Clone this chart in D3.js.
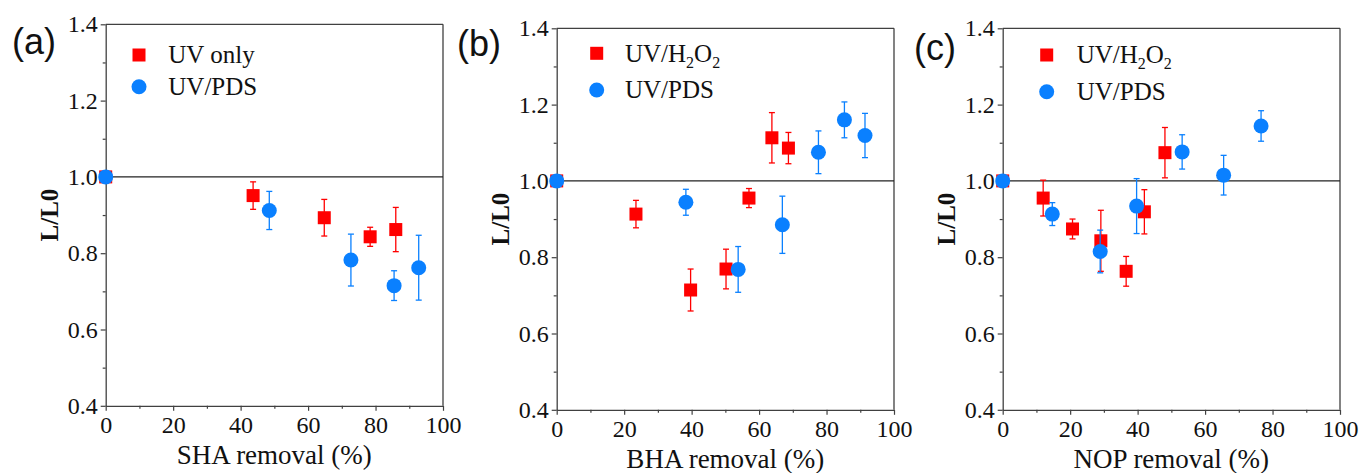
<!DOCTYPE html>
<html>
<head>
<meta charset="utf-8">
<script src="https://cdn.jsdelivr.net/npm/d3@7"></script>
<style>
  body { margin: 0; background: #fff; }
  svg { display: block; }
  svg text { font-family: "Liberation Serif", serif; }
  svg text.panel-label { font-family: "Liberation Sans", sans-serif; }
</style>
</head>
<body>
<svg id="chart" width="1363" height="473"></svg>
<script>
// ---- data ----
var xTicks = [0, 20, 40, 60, 80, 100];
var yTicks = [0.4, 0.6, 0.8, 1.0, 1.2, 1.4];

// (a) SHA
var shaRedX   = [0, 43.7, 64.8, 78.4, 86.0];
var shaRedY   = [1.0, 0.951, 0.893, 0.843, 0.862];
var shaRedErr = [0, 0.036, 0.048, 0.025, 0.058];
var shaBlueX   = [0, 48.5, 72.7, 85.5, 92.8];
var shaBlueY   = [1.0, 0.912, 0.782, 0.715, 0.762];
var shaBlueErr = [0, 0.050, 0.068, 0.039, 0.085];

// (b) BHA
var bhaRedX   = [0, 23.5, 39.7, 50.2, 57.0, 63.8, 68.7];
var bhaRedY   = [1.0, 0.913, 0.714, 0.769, 0.955, 1.113, 1.086];
var bhaRedErr = [0, 0.036, 0.055, 0.052, 0.025, 0.066, 0.041];
var bhaBlueX   = [0, 38.3, 53.8, 66.9, 77.6, 85.3, 91.4];
var bhaBlueY   = [1.0, 0.944, 0.768, 0.885, 1.075, 1.160, 1.119];
var bhaBlueErr = [0, 0.034, 0.060, 0.075, 0.056, 0.047, 0.058];

// (c) NOP
var nopRedX   = [0, 12.0, 20.7, 29.1, 36.6, 42.0, 48.1];
var nopRedY   = [1.0, 0.955, 0.874, 0.843, 0.763, 0.919, 1.074];
var nopRedErr = [0, 0.047, 0.026, 0.080, 0.039, 0.058, 0.066];
var nopBlueX   = [0, 14.7, 28.9, 39.7, 53.2, 65.5, 76.6];
var nopBlueY   = [1.0, 0.913, 0.815, 0.934, 1.076, 1.015, 1.144];
var nopBlueErr = [0, 0.030, 0.056, 0.072, 0.045, 0.052, 0.040];

var redColor = "#ff0000";
var blueColor = "#0a80ff";
var axisColor = "#404040";
var serif = "Liberation Serif";

function zip(xs, ys, es) {
  return xs.map(function (x, i) { return { x: x, y: ys[i], e: es[i] }; });
}

// legY is relative to the panel's top edge
var panels = [
  { label: "(a)", labelX: 12, labelY: 54, left: 105.7, top: 24.3,
    xTitle: "SHA removal (%)", redName: "UV only", redSub: false,
    legX: 33.3, legTextX: 62.6, legY: 30.7, legGap: 31.7,
    red: zip(shaRedX, shaRedY, shaRedErr), blue: zip(shaBlueX, shaBlueY, shaBlueErr) },
  { label: "(b)", labelX: 457, labelY: 56, left: 556.7, top: 28.3,
    xTitle: "BHA removal (%)", redName: "UV/H2O2", redSub: true,
    legX: 40, legTextX: 68.3, legY: 25, legGap: 36.7,
    red: zip(bhaRedX, bhaRedY, bhaRedErr), blue: zip(bhaBlueX, bhaBlueY, bhaBlueErr) },
  { label: "(c)", labelX: 914, labelY: 60, left: 1002.7, top: 28.3,
    xTitle: "NOP removal (%)", redName: "UV/H2O2", redSub: true,
    legX: 44, legTextX: 74, legY: 26.7, legGap: 36.7,
    red: zip(nopRedX, nopRedY, nopRedErr), blue: zip(nopBlueX, nopBlueY, nopBlueErr) }
];

var W = 337.3, H = 381.5;
var svg = d3.select("#chart");

function styleAxis(a) {
  a.attr("font-family", null).attr("font-size", null);
  a.select(".domain").attr("stroke", axisColor).attr("stroke-width", 1.3);
  a.selectAll("line").attr("stroke", axisColor).attr("stroke-width", 1.2);
  a.selectAll("text").style("font-family", serif).style("font-size", "24px").attr("fill", "#111");
}

panels.forEach(function (p) {
  var g = svg.append("g").attr("transform", "translate(" + p.left + "," + p.top + ")");
  var x = d3.scaleLinear().domain([0, 100]).range([0, W]);
  var y = d3.scaleLinear().domain([0.4, 1.4]).range([H, 0]);

  // minor ticks
  var xMinor = d3.range(10, 100, 20);
  var yMinor = d3.range(0.5, 1.4, 0.2);
  g.append("g").attr("transform", "translate(0," + H + ")")
    .call(d3.axisBottom(x).tickValues(xMinor).tickSize(3).tickFormat(""))
    .call(function (a) { a.select(".domain").remove(); a.selectAll("line").attr("stroke", axisColor).attr("stroke-width", 1.2); });
  g.append("g")
    .call(d3.axisLeft(y).tickValues(yMinor).tickSize(3).tickFormat(""))
    .call(function (a) { a.select(".domain").remove(); a.selectAll("line").attr("stroke", axisColor).attr("stroke-width", 1.2); });

  // major axes
  g.append("g").attr("transform", "translate(0," + H + ")")
    .call(d3.axisBottom(x).tickValues(xTicks).tickSize(5).tickSizeOuter(0).tickPadding(5))
    .call(styleAxis);
  g.append("g")
    .call(d3.axisLeft(y).tickValues(yTicks).tickSize(5).tickSizeOuter(0).tickPadding(3).tickFormat(d3.format(".1f")))
    .call(styleAxis);

  // top and right frame
  g.append("line").attr("x1", 0).attr("x2", W).attr("y1", 0).attr("y2", 0)
    .attr("stroke", axisColor).attr("stroke-width", 1.3);
  g.append("line").attr("x1", W).attr("x2", W).attr("y1", 0).attr("y2", H)
    .attr("stroke", axisColor).attr("stroke-width", 1.3);

  // reference line at 1.0
  g.append("line").attr("x1", 0).attr("x2", W).attr("y1", y(1)).attr("y2", y(1))
    .attr("stroke", "#222").attr("stroke-width", 1.2);

  // axis titles
  g.append("text").attr("x", W / 2).attr("y", H + 58)
    .attr("text-anchor", "middle").style("font-size", "27px")
    .attr("fill", "#111").text(p.xTitle);
  g.append("text")
    .attr("transform", "translate(-48," + (H / 2) + ") rotate(-90)")
    .attr("text-anchor", "middle").style("font-size", "25px")
    .attr("font-weight", "bold").attr("fill", "#111").text("L/L0");

  // panel label
  svg.append("text").attr("class", "panel-label").attr("x", p.labelX).attr("y", p.labelY)
    .style("font-size", "36px").attr("fill", "#111").text(p.label);

  // series
  drawSeries(g, p.red, x, y, redColor, "square");
  drawSeries(g, p.blue, x, y, blueColor, "circle");

  // legend
  var leg = g.append("g");
  leg.append("rect").attr("x", p.legX - 6.5).attr("y", p.legY - 6.5)
    .attr("width", 13).attr("height", 13).attr("fill", redColor);
  leg.append("circle").attr("cx", p.legX).attr("cy", p.legY + p.legGap).attr("r", 7.5).attr("fill", blueColor);
  var t1 = leg.append("text").attr("x", p.legTextX).attr("y", p.legY + 8.5)
    .style("font-size", "25px").attr("fill", "#111");
  if (p.redSub) {
    t1.append("tspan").text("UV/H");
    t1.append("tspan").style("font-size", "16px").attr("dy", 6).text("2");
    t1.append("tspan").attr("dy", -6).text("O");
    t1.append("tspan").style("font-size", "16px").attr("dy", 6).text("2");
  } else {
    t1.text(p.redName);
  }
  leg.append("text").attr("x", p.legTextX).attr("y", p.legY + p.legGap + 8.5)
    .style("font-size", "25px").attr("fill", "#111").text("UV/PDS");
});

function drawSeries(g, data, x, y, color, shape) {
  var s = g.append("g");
  var bars = s.selectAll(".err").data(data.filter(function (d) { return d.e > 0; })).enter()
    .append("g").attr("class", "err").attr("stroke", color).attr("stroke-width", 1.3);
  bars.append("line")
    .attr("x1", function (d) { return x(d.x); }).attr("x2", function (d) { return x(d.x); })
    .attr("y1", function (d) { return y(d.y + d.e); }).attr("y2", function (d) { return y(d.y - d.e); });
  bars.append("line")
    .attr("x1", function (d) { return x(d.x) - 3; }).attr("x2", function (d) { return x(d.x) + 3; })
    .attr("y1", function (d) { return y(d.y + d.e); }).attr("y2", function (d) { return y(d.y + d.e); });
  bars.append("line")
    .attr("x1", function (d) { return x(d.x) - 3; }).attr("x2", function (d) { return x(d.x) + 3; })
    .attr("y1", function (d) { return y(d.y - d.e); }).attr("y2", function (d) { return y(d.y - d.e); });

  if (shape === "square") {
    s.selectAll(".pt").data(data).enter().append("rect").attr("class", "pt")
      .attr("x", function (d) { return x(d.x) - 6.5; }).attr("y", function (d) { return y(d.y) - 6.5; })
      .attr("width", 13).attr("height", 13).attr("fill", color);
  } else {
    s.selectAll(".pt").data(data).enter().append("circle").attr("class", "pt")
      .attr("cx", function (d) { return x(d.x); }).attr("cy", function (d) { return y(d.y); })
      .attr("r", 7.5).attr("fill", color);
  }
}
</script>
</body>
</html>
